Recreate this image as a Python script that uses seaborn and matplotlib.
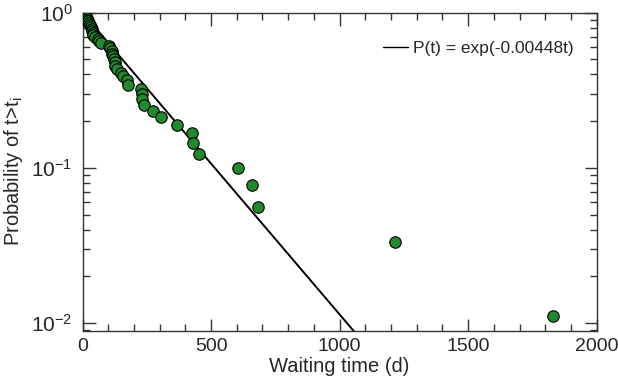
import matplotlib
matplotlib.use("Agg")
import matplotlib.pyplot as plt
import matplotlib.ticker as mticker
import seaborn as sns
import pandas as pd
import math

# waiting times (days), sorted ascending
wait_days = [6, 10, 14, 17, 19, 21, 25, 29, 33, 36, 37, 39, 42, 49, 61, 66,
             72, 104, 107, 113, 115, 119, 122, 126, 128, 136, 148, 156, 172, 178,
             226, 230, 231, 239, 273, 304, 369, 427, 431, 453, 606, 660, 681,
             1217, 1830]
# empirical probability of t > t_i
prob = [0.9889, 0.9667, 0.9444, 0.9222, 0.9000, 0.8778, 0.8556, 0.8333,
        0.8111, 0.7889, 0.7667, 0.7444, 0.7222, 0.7000, 0.6778, 0.6556,
        0.6333, 0.6111, 0.5889, 0.5667, 0.5444, 0.5222, 0.5000, 0.4778,
        0.4556, 0.4333, 0.4111, 0.3889, 0.3667, 0.3444, 0.3222, 0.3000,
        0.2778, 0.2556, 0.2333, 0.2111, 0.1889, 0.1667, 0.1444, 0.1222,
        0.1000, 0.0778, 0.0556, 0.0333, 0.0111]
# fitted exponential P(t) = exp(-0.00448 t), endpoints
fit_t = [0, 1100]
fit_p = [1.0, 0.00725]
fit_label = "P(t) = exp(-0.00448t)"

sns.set_style("ticks")
plt.rcParams['font.family'] = ['Liberation Sans', 'DejaVu Sans']
plt.rcParams['mathtext.fontset'] = 'custom'
plt.rcParams['mathtext.rm'] = 'Liberation Sans'
plt.rcParams['mathtext.it'] = 'Liberation Sans:italic'

fig = plt.figure(figsize=(6.18, 3.88), dpi=100)
ax = fig.add_axes([0.1335, 0.1477, 0.832, 0.8196])

df = pd.DataFrame({"t": wait_days, "p": prob})
fit_df = pd.DataFrame({"t": fit_t, "p": fit_p})

sns.lineplot(data=fit_df, x="t", y="p", color="black", linewidth=1.4,
             label=fit_label, ax=ax, zorder=2)
sns.scatterplot(data=df, x="t", y="p", color="#23892f", edgecolor="black",
                linewidth=0.8, s=68, ax=ax, zorder=3, legend=False)

ax.set_yscale("log")
ax.set_xlim(0, 2000)
ax.set_ylim(10 ** -2.05, 1.0)

ax.xaxis.set_major_locator(mticker.MultipleLocator(500))
ax.xaxis.set_minor_locator(mticker.MultipleLocator(100))
ax.yaxis.set_major_locator(mticker.LogLocator(base=10))
ax.yaxis.set_minor_locator(mticker.LogLocator(base=10, subs=range(2, 10)))
ax.yaxis.set_minor_formatter(mticker.NullFormatter())
ax.yaxis.set_major_formatter(mticker.FuncFormatter(
    lambda v, pos: r"$\mathregular{10^{%d}}$" % round(math.log10(v))))

ax.tick_params(which="both", direction="in", top=True, right=True,
               color="#333333", labelsize=14, pad=5)
ax.tick_params(axis="y", which="major", labelsize=15, pad=7)
ax.tick_params(which="major", length=9, width=1.0)
ax.tick_params(which="minor", length=5, width=1.0)

for sp in ax.spines.values():
    sp.set_visible(True)
    sp.set_color("#333333")
    sp.set_linewidth(1.0)

ax.set_xlabel("Waiting time (d)", fontsize=14.5, labelpad=2)
ax.set_ylabel(r"Probability of t>t$_\mathregular{i}$", fontsize=14.5, labelpad=5)

leg = ax.legend(loc="upper right", frameon=False, fontsize=12.5,
                handlelength=1.4, handletextpad=0.3,
                bbox_to_anchor=(0.985, 0.96))
for line in leg.get_lines():
    line.set_linewidth(1.0)

fig.savefig("out.png", dpi=100)
